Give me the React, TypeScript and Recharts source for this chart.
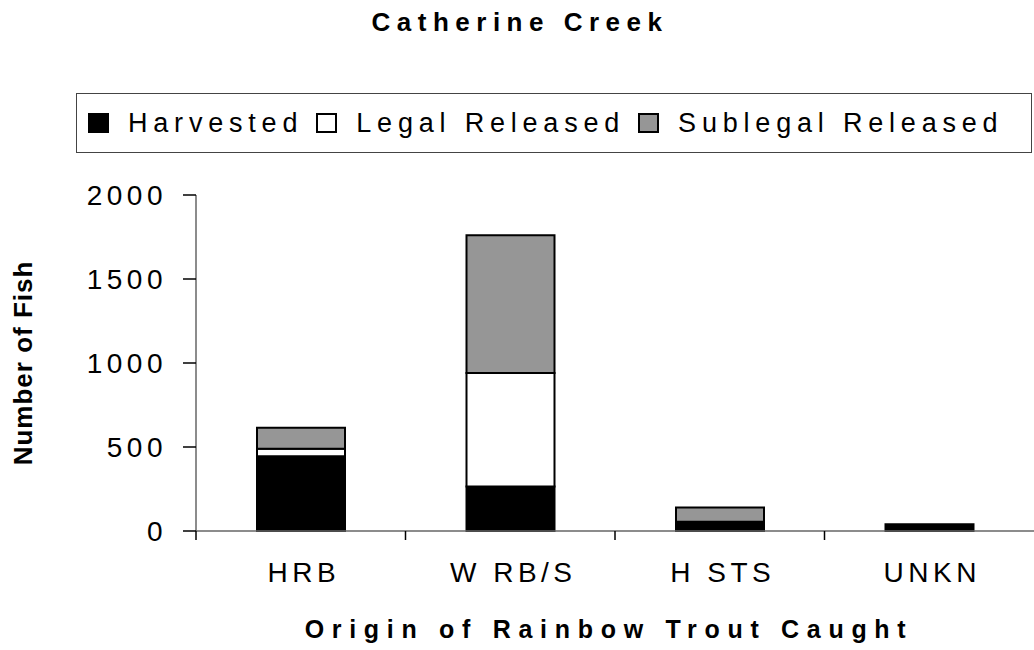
import React from "react";
import { Bar, BarChart, Legend, XAxis, YAxis } from "recharts";

const categories = ["HRB", "W RB/S", "H STS", "UNKN"];
const harvested = [445, 265, 55, 40];
const legalReleased = [45, 675, 0, 0];
const sublegalReleased = [125, 820, 85, 0];
const yTicks = [0, 500, 1000, 1500, 2000];

const series = [
  { key: "harvested", name: "Harvested", fill: "#000000" },
  { key: "legal", name: "Legal Released", fill: "#ffffff" },
  { key: "sublegal", name: "Sublegal Released", fill: "#969696" },
];

const data = categories.map((c, i) => ({
  name: c,
  harvested: harvested[i],
  legal: legalReleased[i],
  sublegal: sublegalReleased[i],
}));

const font = "'Liberation Sans', Arial, sans-serif";

function YTick(props: any) {
  const { x, y, payload } = props;
  return (
    <text x={x - 16} y={y + 10} textAnchor="end" fontFamily={font} fontSize={28} letterSpacing={4.5} fill="#000">
      {payload.value}
    </text>
  );
}

function XTick(props: any) {
  const { x, y, payload } = props;
  const half = payload.offset ?? 104.75;
  return (
    <g>
      <line x1={x - half} x2={x - half} y1={y} y2={y + 9} stroke="#000" strokeWidth={1.5} />
      <text x={x + 3} y={y + 51} textAnchor="middle" fontFamily={font} fontSize={28} letterSpacing={4.5} fill="#000">
        {payload.value}
      </text>
    </g>
  );
}

function YLabel(props: any) {
  const vb = props.viewBox || { x: 0, y: 195, height: 336 };
  const cx = vb.x + 23;
  const cy = vb.y + vb.height / 2;
  return (
    <text
      x={cx}
      y={cy}
      transform={`rotate(-90 ${cx} ${cy})`}
      textAnchor="middle"
      dominantBaseline="central"
      fontFamily={font}
      fontWeight="bold"
      fontSize={26}
      letterSpacing={1}
      fill="#000"
    >
      Number of Fish
    </text>
  );
}

function LegendBox() {
  return (
    <div
      style={{
        position: "absolute",
        left: 76,
        top: 93,
        width: 956,
        height: 60,
        boxSizing: "border-box",
        border: "1px solid #444",
        background: "#fff",
        display: "flex",
        alignItems: "center",
        paddingLeft: 11,
        fontFamily: font,
        fontSize: 27,
        letterSpacing: 5.8,
        color: "#000",
      }}
    >
      {series.map((s) => (
        <div key={s.key} style={{ display: "flex", alignItems: "center", marginRight: 13 }}>
          <span
            style={{
              display: "inline-block",
              width: 21,
              height: 20,
              boxSizing: "border-box",
              background: s.fill,
              border: "2px solid #000",
              marginRight: 19,
            }}
          />
          <span>{s.name}</span>
        </div>
      ))}
    </div>
  );
}

export default function App() {
  return (
    <div style={{ position: "absolute", left: 0, top: 0, width: 1034, height: 650, background: "#fff" }}>
      <div
        style={{
          position: "absolute",
          left: 0,
          width: 1034,
          top: 9,
          textAlign: "center",
          fontFamily: font,
          fontWeight: "bold",
          fontSize: 26,
          lineHeight: "26px",
          letterSpacing: 6.5,
          paddingLeft: 6,
          boxSizing: "border-box",
        }}
      >
        Catherine Creek
      </div>
      <div style={{ position: "absolute", left: 0, top: 0 }}>
        <BarChart width={1034} height={650} data={data} margin={{ top: 195, right: 0, left: 0, bottom: 0 }}>
          <Legend content={() => null} />
          <XAxis
            dataKey="name"
            height={119}
            axisLine={{ stroke: "#666", strokeWidth: 1.5 }}
            tickLine={false}
            tickSize={0}
            tickMargin={0}
            tick={<XTick />}
            interval={0}
            label={{
              value: "Origin of Rainbow Trout Caught",
              position: "insideBottom",
              offset: 12,
              fontFamily: font,
              fontWeight: "bold",
              fontSize: 25,
              letterSpacing: 7.7,
              fill: "#000",
              dx: -6,
            }}
          />
          <YAxis
            width={196}
            domain={[0, 2000]}
            ticks={yTicks}
            interval={0}
            tickSize={13}
            tickMargin={0}
            axisLine={{ stroke: "#666", strokeWidth: 1.5 }}
            tickLine={{ stroke: "#000", strokeWidth: 1.5 }}
            tick={<YTick />}
            label={<YLabel />}
          />
          {series.map((s) => (
            <Bar
              key={s.key}
              dataKey={s.key}
              name={s.name}
              stackId="a"
              fill={s.fill}
              stroke="#000"
              strokeWidth={2}
              barSize={88}
              isAnimationActive={false}
            />
          ))}
        </BarChart>
      </div>
      <LegendBox />
    </div>
  );
}
